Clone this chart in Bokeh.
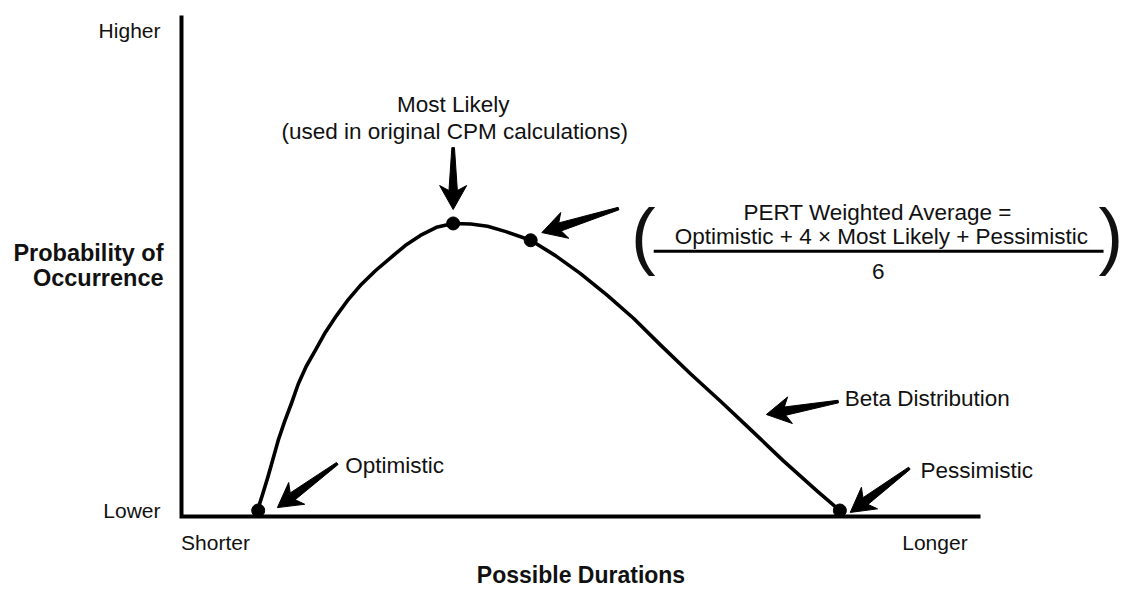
import math
from bokeh.plotting import figure
from bokeh.models import Label, Range1d
from bokeh.embed import file_html
from bokeh.resources import INLINE

# ---- data (durations 0-100, relative probability 0-1) ----
curve_x = [9.5, 10.1, 10.8, 11.4, 12.1, 12.9, 13.8, 14.6, 15.6, 16.8, 18.0, 19.4, 20.9, 22.5,
           24.3, 26.2, 28.0, 29.9, 31.9, 34.0, 36.2, 38.3, 40.6, 43.7, 46.8, 49.9, 53.3, 56.6,
           60.0, 63.7, 67.5, 71.2, 75.3, 79.6, 82.4]
curve_y = [0.0, 0.031, 0.069, 0.104, 0.146, 0.185, 0.225, 0.263, 0.300, 0.335, 0.371, 0.406, 0.440, 0.471,
           0.500, 0.527, 0.552, 0.573, 0.590, 0.598, 0.597, 0.592, 0.581, 0.563, 0.531, 0.494, 0.448, 0.400,
           0.344, 0.285, 0.227, 0.169, 0.104, 0.040, 0.0]

point_names = ["Optimistic", "Most Likely", "PERT Weighted Average", "Pessimistic"]
point_x = [9.6, 34.0, 43.7, 82.4]
point_y = [0.0, 0.598, 0.563, 0.0]

# axes: x from 0 to 100, y from the baseline up to the top of the scale
axis_x_end = 100.0
axis_y_base = -0.0125
axis_y_top = 1.03125

x_ticks = [4.26, 94.3]
x_tick_labels = ["Shorter", "Longer"]
y_ticks = [0.0, 1.0]
y_tick_labels = ["Lower", "Higher"]
x_title = "Possible Durations"
y_title = ["Probability of", "Occurrence"]

# annotation arrows: tail -> tip
arrow_tail_x = [34.0, 54.7, 19.5, 82.2, 91.1]
arrow_tail_y = [0.756, 0.629, 0.098, 0.227, 0.088]
arrow_tip_x = [34.0, 45.1, 12.0, 73.2, 83.7]
arrow_tip_y = [0.627, 0.579, 0.006, 0.200, -0.004]

# ---- layout: the frame fills the whole page ----
W, H = 1122, 591
X0, X1 = -22.653, 117.772
Y0, Y1 = -0.16875, 1.0625
SX = W / (X1 - X0)
SY = H / (Y1 - Y0)

FONT = "Liberation Sans"
INK = "#111111"

p = figure(width=W, height=H, output_backend="svg", toolbar_location=None,
           x_range=Range1d(X0, X1), y_range=Range1d(Y0, Y1),
           x_axis_location=None, y_axis_location=None,
           min_border=0, min_border_left=0, min_border_right=0,
           min_border_top=0, min_border_bottom=0)
p.grid.visible = False
p.outline_line_color = None
p.background_fill_color = "white"
p.border_fill_color = "white"

# axis lines
p.line([0, 0, axis_x_end], [axis_y_top, axis_y_base, axis_y_base],
       line_width=4, line_color="black", line_join="miter")

# curve and points
p.line(curve_x, curve_y, line_width=3.6, line_color="black", line_join="round", line_cap="round")
p.scatter(point_x, point_y, size=13, color="black")

# arrows as filled wedge shapes
def arrow_shape(x0, y0, x1, y1):
    px0, py0, px1, py1 = x0 * SX, y0 * SY, x1 * SX, y1 * SY
    dx, dy = px0 - px1, py0 - py1
    L = math.hypot(dx, dy)
    ux, uy = dx / L, dy / L
    nx, ny = -uy, ux
    prof = [(0, 0), (24, 13.5), (19, 4.2), (L, 1.3), (L, -1.3), (19, -4.2), (24, -13.5)]
    xs = [(px1 + d * ux + w * nx) / SX for d, w in prof]
    ys = [(py1 + d * uy + w * ny) / SY for d, w in prof]
    return xs, ys

axs, ays = [], []
for a, b, c, d in zip(arrow_tail_x, arrow_tail_y, arrow_tip_x, arrow_tip_y):
    xs, ys = arrow_shape(a, b, c, d)
    axs.append(xs)
    ays.append(ys)
p.patches(axs, ays, fill_color="black", line_color="black", line_width=1)

def lab(x, y, text, align="center", size="22.5px", style="normal", font=FONT):
    p.add_layout(Label(x=x, y=y, text=text, text_align=align, text_baseline="middle",
                       text_font=font, text_font_size=size, text_font_style=style,
                       text_color=INK))

# tick labels and axis titles
lab(-2.63, y_ticks[0], y_tick_labels[0], align="right", size="21px")
lab(-2.63, y_ticks[1], y_tick_labels[1], align="right", size="21px")
lab(x_ticks[0], -0.0667, x_tick_labels[0], size="21px")
lab(x_ticks[1], -0.0667, x_tick_labels[1], size="21px")
lab(50.0, -0.1354, x_title, size="23px", style="bold")
lab(-2.25, 0.5375, y_title[0], align="right", size="23.5px", style="bold")
lab(-2.25, 0.484, y_title[1], align="right", size="23.5px", style="bold")

# text annotations
lab(34.0, 0.846, "Most Likely")
lab(34.2, 0.790, "(used in original CPM calculations)")
lab(20.5, 0.094, "Optimistic", align="left")
lab(83.0, 0.233, "Beta Distribution", align="left")
lab(92.5, 0.083, "Pessimistic", align="left")

# PERT formula
lab(87.2, 0.621, "PERT Weighted Average =")
lab(87.6, 0.571, "Optimistic + 4 \u00d7 Most Likely + Pessimistic")
lab(87.2, 0.498, "6")
lab(57.8, 0.573, "(", size="74px")
lab(116.3, 0.573, ")", size="74px")
p.segment([59.1], [0.540], [115.4], [0.540], line_width=3, line_color="black")

open("out.html", "w").write(file_html(p, INLINE))
